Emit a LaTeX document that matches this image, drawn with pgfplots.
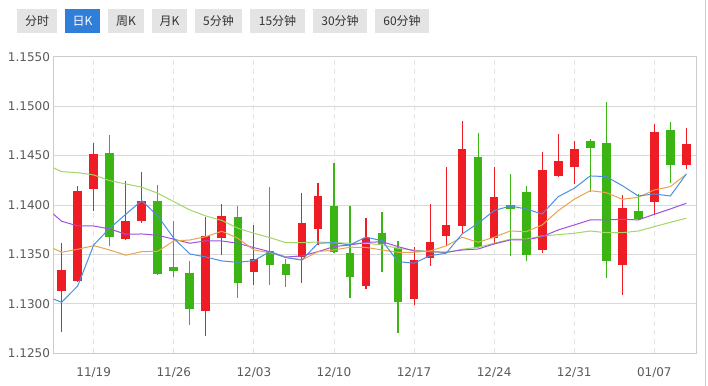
\documentclass[border=0pt]{standalone}
\usepackage{pgfplots}
\usepackage{pgfplotstable}
\pgfplotsset{compat=1.18}
\usepackage{fontspec}
\setmainfont{DejaVu Sans}
\newfontfamily\cjk{Noto Sans CJK SC}
\definecolor{cred}{HTML}{EE1C24}
\definecolor{cgreen}{HTML}{3CB414}
\definecolor{mablue}{HTML}{4A90E2}
\definecolor{maorange}{HTML}{E8A54E}
\definecolor{mapurple}{HTML}{A050E0}
\definecolor{magreen}{HTML}{A3D666}
\definecolor{gridgray}{HTML}{D9D9D9}
\definecolor{vgridgray}{HTML}{E3E3E3}
\definecolor{axisgray}{HTML}{CCCCCC}
\definecolor{btngray}{HTML}{E4E4E4}
\definecolor{btnblue}{HTML}{2F7ED8}
\definecolor{txtgray}{HTML}{5A5A5A}
\definecolor{btntxt}{HTML}{333333}

% red = rising candles, green = falling candles
\pgfplotstableread{
x  O      H      L      C
0  1.1313 1.1362 1.1272 1.1334
1  1.1323 1.1419 1.1322 1.1414
2  1.1416 1.1463 1.1394 1.1452
4  1.1366 1.1424 1.1365 1.1384
5  1.1384 1.1433 1.1382 1.1404
9  1.1293 1.1388 1.1268 1.1369
10 1.1367 1.1401 1.1349 1.1389
12 1.1332 1.1380 1.1319 1.1345
15 1.1347 1.1412 1.1321 1.1382
16 1.1376 1.1422 1.1360 1.1409
19 1.1318 1.1387 1.1315 1.1367
22 1.1305 1.1358 1.1299 1.1344
23 1.1346 1.1401 1.1338 1.1363
24 1.1369 1.1438 1.1359 1.1380
25 1.1379 1.1485 1.1372 1.1457
27 1.1367 1.1438 1.1362 1.1408
30 1.1355 1.1454 1.1352 1.1436
31 1.1429 1.1472 1.1428 1.1445
32 1.1439 1.1465 1.1421 1.1457
35 1.1339 1.1410 1.1309 1.1397
37 1.1403 1.1482 1.1390 1.1474
39 1.1440 1.1478 1.1437 1.1462
}\redtab

\pgfplotstableread{
x  O      H      L      C
3  1.1453 1.1471 1.1359 1.1368
6  1.1404 1.1420 1.1329 1.1330
7  1.1337 1.1384 1.1327 1.1333
8  1.1331 1.1343 1.1279 1.1295
11 1.1388 1.1399 1.1306 1.1321
13 1.1353 1.1418 1.1319 1.1339
14 1.1340 1.1345 1.1317 1.1329
17 1.1399 1.1443 1.1352 1.1353
18 1.1352 1.1399 1.1306 1.1327
20 1.1372 1.1393 1.1332 1.1361
21 1.1357 1.1364 1.1271 1.1302
26 1.1449 1.1473 1.1356 1.1358
28 1.1400 1.1431 1.1348 1.1396
29 1.1413 1.1419 1.1343 1.1350
33 1.1465 1.1467 1.1413 1.1458
34 1.1463 1.1504 1.1326 1.1343
36 1.1394 1.1411 1.1385 1.1386
38 1.1476 1.1484 1.1422 1.1440
}\greentab

\begin{document}
\begin{tikzpicture}
\useasboundingbox (0,0) rectangle (708bp,386bp);
\fill[white] (0,0) rectangle (708bp,386bp);
% period buttons
\tikzset{btn/.style={font=\cjk\fontsize{12bp}{14bp}\selectfont, text=btntxt, inner sep=0}}
\fill[btngray] (17bp,353bp) rectangle (57bp,377bp);   \node[btn] at (37bp,365bp) {分时};
\fill[btnblue] (65bp,353bp) rectangle (100bp,377bp);  \node[btn, text=white] at (82.5bp,365bp) {日K};
\fill[btngray] (108bp,353bp) rectangle (144bp,377bp); \node[btn] at (126bp,365bp) {周K};
\fill[btngray] (152bp,353bp) rectangle (187bp,377bp); \node[btn] at (169.5bp,365bp) {月K};
\fill[btngray] (195bp,353bp) rectangle (242bp,377bp); \node[btn] at (218.5bp,365bp) {5分钟};
\fill[btngray] (250bp,353bp) rectangle (305bp,377bp); \node[btn] at (277.5bp,365bp) {15分钟};
\fill[btngray] (313bp,353bp) rectangle (367bp,377bp); \node[btn] at (340bp,365bp) {30分钟};
\fill[btngray] (375bp,353bp) rectangle (429bp,377bp); \node[btn] at (402bp,365bp) {60分钟};
\draw[axisgray, line width=1bp] (705bp,0) -- (705bp,386bp);

\begin{axis}[
  at={(53.5bp,32.7bp)}, anchor=south west,
  scale only axis, width=643.1bp, height=296.6bp,
  xmin=-0.51, xmax=39.64, ymin=1.125, ymax=1.155,
  xtick={2,7,12,17,22,27,32,37},
  xticklabels={11/19,11/26,12/03,12/10,12/17,12/24,12/31,01/07},
  ytick={1.125,1.13,1.135,1.14,1.145,1.15,1.155},
  scaled y ticks=false,
  yticklabel style={/pgf/number format/.cd, fixed, fixed zerofill, precision=4},
  /pgf/number format/assume math mode=true,
  tick label style={font=\fontsize{12bp}{14bp}\selectfont, text=txtgray},
  xticklabel style={yshift=-10.5bp},
  major tick length=0pt,
  axis line style={draw=axisgray, line width=1bp},
  xmajorgrids, ymajorgrids,
  major x grid style={draw=vgridgray, line width=0.8bp, dash pattern=on 5bp off 4bp},
  major y grid style={draw=gridgray, line width=0.9bp},
]
% wicks
\addplot[draw=none, mark=none, forget plot,
  error bars/.cd, y dir=both, y explicit, error mark=none,
  error bar style={draw=cred, line width=1.1bp}]
  table[x=x, y expr={(\thisrow{H}+\thisrow{L})/2}, y error expr={(\thisrow{H}-\thisrow{L})/2}] {\redtab};
\addplot[draw=none, mark=none, forget plot,
  error bars/.cd, y dir=both, y explicit, error mark=none,
  error bar style={draw=cgreen, line width=1.1bp}]
  table[x=x, y expr={(\thisrow{H}+\thisrow{L})/2}, y error expr={(\thisrow{H}-\thisrow{L})/2}] {\greentab};
% bodies
\addplot[draw=none, mark=none, forget plot,
  error bars/.cd, y dir=both, y explicit, error mark=none,
  error bar style={draw=cred, line width=8.7bp}]
  table[x=x, y expr={(\thisrow{O}+\thisrow{C})/2}, y error expr={abs(\thisrow{C}-\thisrow{O})/2}] {\redtab};
\addplot[draw=none, mark=none, forget plot,
  error bars/.cd, y dir=both, y explicit, error mark=none,
  error bar style={draw=cgreen, line width=8.7bp}]
  table[x=x, y expr={(\thisrow{O}+\thisrow{C})/2}, y error expr={abs(\thisrow{C}-\thisrow{O})/2}] {\greentab};
% moving averages
\addplot[magreen, line width=1bp, mark=none] coordinates {
(-1,1.14412) (0,1.14337) (1,1.14327) (2,1.14304) (3,1.14246) (4,1.14213) (5,1.14180) (6,1.14119) (7,1.14034) (8,1.13950) (9,1.13889)
(10,1.13844) (11,1.13765) (12,1.13714) (13,1.13670) (14,1.13619) (15,1.13619) (16,1.13626) (17,1.13619) (18,1.13613) (19,1.13613)
(20,1.13596) (21,1.13562) (22,1.13545) (23,1.13528) (24,1.13518) (25,1.13552) (26,1.13573) (27,1.13613) (28,1.13654) (29,1.13654)
(30,1.13687) (31,1.13700) (32,1.13714) (33,1.13737) (34,1.13720) (35,1.13720) (36,1.13737) (37,1.13781) (38,1.13825) (39,1.13866)};
\addplot[mapurple, line width=1bp, mark=none] coordinates {
(-1,1.13976) (0,1.13836) (1,1.13788) (2,1.13788) (3,1.13758) (4,1.13704) (5,1.13707) (6,1.13694) (7,1.13654) (8,1.13613) (9,1.13638)
(10,1.13636) (11,1.13613) (12,1.13569) (13,1.13528) (14,1.13474) (15,1.13485) (16,1.13528) (17,1.13579) (18,1.13596) (19,1.13621)
(20,1.13629) (21,1.13579) (22,1.13535) (23,1.13528) (24,1.13522) (25,1.13545) (26,1.13555) (27,1.13606) (28,1.13646) (29,1.13646)
(30,1.13680) (31,1.13748) (32,1.13798) (33,1.13849) (34,1.13849) (35,1.13856) (36,1.13849) (37,1.13906) (38,1.13960) (39,1.14018)};
\addplot[maorange, line width=1bp, mark=none] coordinates {
(-1,1.13596) (0,1.13522) (1,1.13552) (2,1.13589) (3,1.13545) (4,1.13492) (5,1.13528) (6,1.13532) (7,1.13636) (8,1.13646) (9,1.13680)
(10,1.13734) (11,1.13664) (12,1.13545) (13,1.13518) (14,1.13471) (15,1.13444) (16,1.13528) (17,1.13545) (18,1.13573) (19,1.13571)
(20,1.13545) (21,1.13522) (22,1.13522) (23,1.13535) (24,1.13586) (25,1.13674) (26,1.13623) (27,1.13674) (28,1.13737) (29,1.13730)
(30,1.13798) (31,1.13943) (32,1.14058) (33,1.14145) (34,1.14125) (35,1.14058) (36,1.14078) (37,1.14152) (38,1.14186) (39,1.14311)};
\addplot[mablue, line width=1bp, mark=none] coordinates {
(-1,1.13080) (0,1.13016) (1,1.13181) (2,1.13596) (3,1.13765) (4,1.13906) (5,1.14044) (6,1.13889) (7,1.13664) (8,1.13505) (9,1.13474)
(10,1.13434) (11,1.13421) (12,1.13437) (13,1.13528) (14,1.13467) (15,1.13444) (16,1.13613) (17,1.13619) (18,1.13596) (19,1.13675)
(20,1.13639) (21,1.13427) (22,1.13411) (23,1.13488) (24,1.13512) (25,1.13707) (26,1.13815) (27,1.13943) (28,1.13990) (29,1.13960)
(30,1.13909) (31,1.14084) (32,1.14169) (33,1.14294) (34,1.14287) (35,1.14196) (36,1.14091) (37,1.14112) (38,1.14091) (39,1.14314)};
\end{axis}
\end{tikzpicture}
\end{document}
